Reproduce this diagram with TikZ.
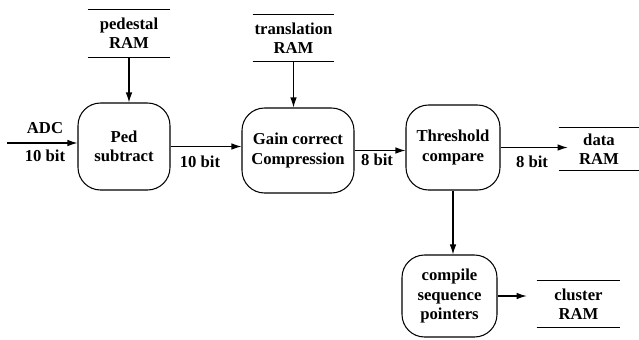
\documentclass[tikz,border=0pt]{standalone}
\usepackage{fontspec}
\setmainfont{Liberation Serif}
\usetikzlibrary{arrows.meta,positioning,calc}
\definecolor{Ink}{HTML}{000000}
\tikzset{
  >={Latex[length=2mm,width=1.3mm]},
  proc/.style={draw=Ink,line width=.6pt,rounded corners=4.5mm,align=center,inner sep=1pt,font=\bfseries\fontsize{9.5}{11}\selectfont},
  store/.style={align=center,inner sep=0pt,font=\bfseries\fontsize{9.5}{11}\selectfont,
    append after command={(\tikzlastnode.north west) edge[draw=Ink,line width=.6pt] (\tikzlastnode.north east)
      (\tikzlastnode.south west) edge[draw=Ink,line width=.6pt] (\tikzlastnode.south east)}},
  flow/.style={->,line width=.6pt,draw=Ink},
  lab/.style={font=\bfseries\fontsize{9.5}{11}\selectfont,inner sep=1pt}
}
\begin{document}
\begin{tikzpicture}[x=0.02cm,y=-0.02cm]
        \useasboundingbox (0,0) rectangle (639,339);
        \node[proc,minimum width=1.84cm,minimum height=1.74cm] (ped) at (124,146.5) {Ped\\subtract};
        \node[proc,minimum width=2.24cm,minimum height=1.70cm] (gain) at (298,150.5) {Gain correct\\Compression};
        \node[proc,minimum width=1.88cm,minimum height=1.70cm] (thresh) at (453,147.5) {Threshold\\compare};
        \node[proc,minimum width=1.90cm,minimum height=1.64cm] (compile) at (449.5,296) {compile\\sequence\\pointers};
        \node[store,minimum width=1.64cm,minimum height=.94cm] (pedram) at (129,33.5) {pedestal\\RAM};
        \node[store,minimum width=1.62cm,minimum height=.92cm] (transram) at (293.5,38) {translation\\RAM};
        \node[store,minimum width=1.60cm,minimum height=.84cm] (dataram) at (599,149) {data\\RAM};
        \node[store,minimum width=1.66cm,minimum height=.92cm] (clusterram) at (578.5,304) {cluster\\RAM};
        \coordinate (adcin) at (7,143);
        \draw[flow] (adcin)--(adcin -| ped.west);
        \node[lab] (adclbl) at (45,128) {ADC}; \node[lab] (adcbits) at (45,156) {10 bit};
        \draw[flow] (pedram)--(pedram |- ped.north);
        \draw[flow] (transram)--(transram |- gain.north);
        \draw[flow] (ped)--(ped -| gain.west);
        \node[lab] (pedbits) at (200,162) {10 bit};
        \draw[flow] (gain)--(gain -| thresh.west);
        \node[lab] (gainbits) at (377,160) {8 bit};
        \draw[flow] (thresh)--([xshift=.18cm]thresh -| dataram.west);
        \node[lab] (threshbits) at (532,162) {8 bit};
        \draw[flow] (thresh.south)--(thresh.south |- compile.north);
        \draw[flow] (compile)--([xshift=-.2cm]compile -| clusterram.west);
      \end{tikzpicture}
\end{document}
